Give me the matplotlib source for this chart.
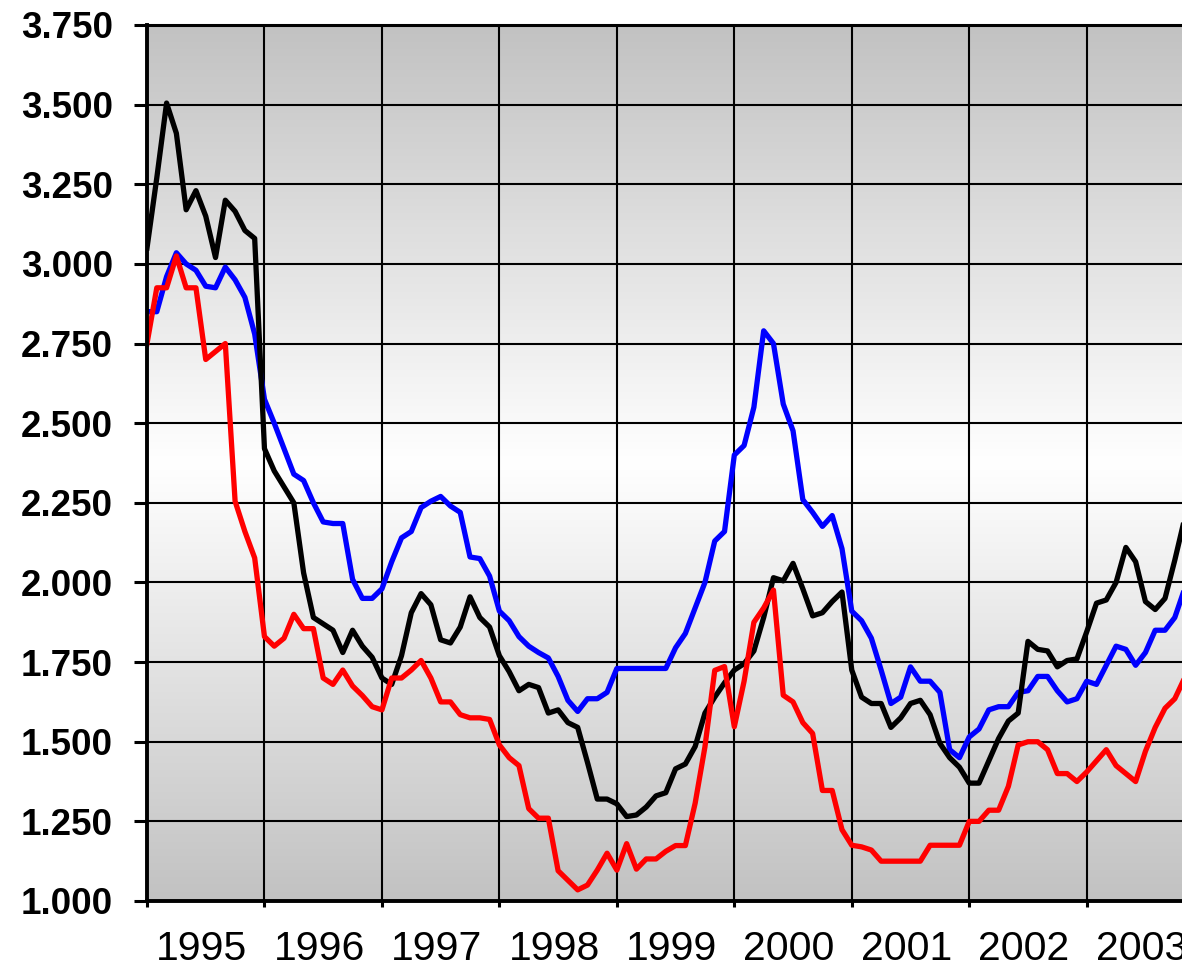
import numpy as np
import matplotlib
matplotlib.use("Agg")
import matplotlib.pyplot as plt
from matplotlib.ticker import FixedLocator, FuncFormatter

# ---- data (monthly, Jan 1995 onward) ----
years = ["1995", "1996", "1997", "1998", "1999", "2000", "2001", "2002", "2003"]

black_series = [
    3.05, 3.27, 3.505, 3.41, 3.17, 3.23, 3.15, 3.02, 3.20, 3.165, 3.105, 3.08,
    2.42, 2.35, 2.30, 2.25, 2.03, 1.89, 1.87, 1.85, 1.78, 1.85, 1.80, 1.765,
    1.70, 1.68, 1.77, 1.905, 1.965, 1.93, 1.82, 1.81, 1.86, 1.955, 1.89, 1.86,
    1.77, 1.72, 1.66, 1.68, 1.67, 1.59, 1.60, 1.56, 1.545, 1.435, 1.32, 1.32,
    1.305, 1.265, 1.27, 1.295, 1.33, 1.34, 1.415, 1.43, 1.485, 1.59, 1.64, 1.685,
    1.725, 1.745, 1.785, 1.89, 2.015, 2.005, 2.06, 1.98, 1.895, 1.905, 1.94, 1.97,
    1.725, 1.64, 1.62, 1.62, 1.545, 1.575, 1.62, 1.63, 1.585, 1.495, 1.45, 1.42,
    1.37, 1.37, 1.44, 1.51, 1.565, 1.59, 1.815, 1.79, 1.785, 1.735, 1.755, 1.76,
    1.845, 1.935, 1.945, 2.00, 2.11, 2.065, 1.94, 1.915, 1.95, 2.07, 2.20,
]

blue_series = [
    2.85, 2.85, 2.96, 3.035, 3.00, 2.98, 2.93, 2.925, 2.99, 2.95, 2.895, 2.78,
    2.575, 2.50, 2.42, 2.34, 2.32, 2.25, 2.19, 2.185, 2.185, 2.01, 1.95, 1.95,
    1.98, 2.065, 2.14, 2.16, 2.235, 2.255, 2.27, 2.24, 2.22, 2.08, 2.075, 2.02,
    1.91, 1.88, 1.83, 1.80, 1.78, 1.763, 1.705, 1.63, 1.595, 1.635, 1.635, 1.655,
    1.73, 1.73, 1.73, 1.73, 1.73, 1.73, 1.795, 1.84, 1.92, 2.00, 2.13, 2.16,
    2.40, 2.43, 2.55, 2.79, 2.75, 2.56, 2.476, 2.26, 2.22, 2.176, 2.21, 2.106,
    1.91, 1.88, 1.825, 1.725, 1.62, 1.64, 1.735, 1.69, 1.69, 1.655, 1.475, 1.45,
    1.515, 1.54, 1.60, 1.61, 1.61, 1.655, 1.66, 1.705, 1.705, 1.66, 1.625, 1.635,
    1.69, 1.68, 1.74, 1.80, 1.79, 1.74, 1.78, 1.85, 1.85, 1.89, 1.98,
]

red_series = [
    2.75, 2.925, 2.925, 3.025, 2.925, 2.925, 2.70, 2.725, 2.75, 2.255, 2.16, 2.077,
    1.83, 1.80, 1.825, 1.90, 1.855, 1.855, 1.70, 1.68, 1.725, 1.675, 1.645, 1.61,
    1.60, 1.70, 1.70, 1.725, 1.755, 1.70, 1.625, 1.625, 1.585, 1.575, 1.575, 1.57,
    1.49, 1.45, 1.425, 1.29, 1.26, 1.26, 1.095, 1.065, 1.035, 1.05, 1.097, 1.15,
    1.097, 1.18, 1.10, 1.132, 1.132, 1.156, 1.174, 1.174, 1.307, 1.484, 1.724, 1.736,
    1.547, 1.69, 1.875, 1.92, 1.976, 1.646, 1.625, 1.56, 1.526, 1.347, 1.347, 1.224,
    1.175, 1.17, 1.16, 1.125, 1.125, 1.125, 1.125, 1.125, 1.175, 1.175, 1.175, 1.175,
    1.25, 1.25, 1.285, 1.285, 1.36, 1.49, 1.50, 1.50, 1.475, 1.40, 1.40, 1.375,
    1.405, 1.44, 1.475, 1.425, 1.40, 1.375, 1.47, 1.545, 1.605, 1.635, 1.70,
]

y_ticks = [1.0, 1.25, 1.5, 1.75, 2.0, 2.25, 2.5, 2.75, 3.0, 3.25, 3.5, 3.75]

# ---- figure ----
W, H = 1182, 966
plt.rcParams['font.family'] = ['Liberation Sans', 'DejaVu Sans']
fig = plt.figure(figsize=(W / 100, H / 100), dpi=100)

left_px, right_px, top_px, bottom_px = 147, 1182, 25, 901
ax = fig.add_axes([left_px / W, 1 - bottom_px / H,
                   (right_px - left_px) / W, (bottom_px - top_px) / H])

px_per_month = (1086.7 - 147) / 96.0
xmax = (right_px - left_px) / px_per_month

# background gradient: gray -> white -> gray
t = np.linspace(0, 1, 512)
v = 0.76 + 0.24 * (1 - np.abs(2 * t - 1.0))
v = np.clip(v, 0, 1)
img = np.repeat(np.stack([v, v, v], axis=-1)[:, None, :], 2, axis=1)
ax.imshow(img, extent=[0, 1, 0, 1], transform=ax.transAxes, aspect='auto',
          zorder=0, interpolation='bilinear')

lw = 3.8
ax.plot(np.arange(len(blue_series)), blue_series, color='#0000ff', lw=lw, zorder=3)
ax.plot(np.arange(len(black_series)), black_series, color='#000000', lw=lw, zorder=4)
ax.plot(np.arange(len(red_series)), red_series, color='#ff0000', lw=lw, zorder=5)

# grid
year_edges = np.arange(0, 12 * (len(years) + 1), 12)
for ye in year_edges[1:]:
    ax.axvline(ye, color='black', lw=1.5, zorder=1)
for yt in y_ticks[1:]:
    ax.axhline(yt, color='black', lw=1.5, zorder=1)

ax.set_xlim(0, xmax)
ax.set_ylim(1.0, 3.75)

# spines
ax.spines['right'].set_visible(False)
ax.spines['left'].set_linewidth(2.8)
ax.spines['bottom'].set_linewidth(2.8)
ax.spines['top'].set_linewidth(2.2)
for s in ['left', 'bottom', 'top']:
    ax.spines[s].set_zorder(6)

# y ticks
ax.yaxis.set_major_locator(FixedLocator(y_ticks))
ax.yaxis.set_major_formatter(FuncFormatter(lambda v, p: f"{v:.3f}"))
ax.tick_params(axis='y', which='major', direction='out', length=9.5, width=2.2,
               pad=15, labelsize=26.5)
for lab in ax.get_yticklabels():
    lab.set_fontweight('bold')

# x ticks: major at year edges (no labels), minor at mid-year with labels
label_pos = list(year_edges[:-1] + 5.6)


def year_fmt(v, p):
    i = int(round((v - 5.6) / 12))
    return years[i] if 0 <= i < len(years) else ""


ax.xaxis.set_major_locator(FixedLocator(year_edges))
ax.xaxis.set_major_formatter(FuncFormatter(lambda v, p: ""))
ax.xaxis.set_minor_locator(FixedLocator(label_pos))
ax.xaxis.set_minor_formatter(FuncFormatter(year_fmt))
ax.tick_params(axis='x', which='major', direction='out', length=4.5, width=2.2)
ax.tick_params(axis='x', which='minor', length=0, pad=21, labelsize=29.5)

fig.savefig("out.png", dpi=100)
